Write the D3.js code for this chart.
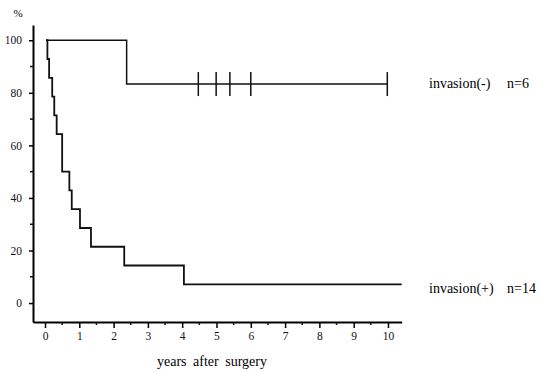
<!DOCTYPE html>
<html>
<head>
<meta charset="utf-8">
<script src="https://cdn.jsdelivr.net/npm/d3@7"></script>
<style>
  body { margin: 0; background: #fff; }
  svg, svg text { font-family: "Liberation Serif", "Times New Roman", "DejaVu Serif", serif !important; }
</style>
</head>
<body>
<svg id="chart" width="547" height="372"></svg>
<script>
const xTicks = [0, 1, 2, 3, 4, 5, 6, 7, 8, 9, 10]
const yTicks = [0, 20, 40, 60, 80, 100]

// invasion(-), n=6
const negTimes = [0.03, 2.38, 10.0]
const negSurv = [100, 83.33, 83.33]
const negCensor = [4.47, 4.99, 5.39, 6.0, 9.98]

// invasion(+), n=14
const posTimes = [0.03, 0.07, 0.12, 0.21, 0.27, 0.34, 0.5, 0.71, 0.78, 1.02, 1.34, 2.31, 4.05, 10.4]
const posSurv = [100, 92.86, 85.71, 78.57, 71.43, 64.29, 50, 42.86, 35.71, 28.57, 21.43, 14.29, 7.14, 7.14]

const svg = d3.select('#chart')

const x = d3.scaleLinear().domain([-0.35, 10.4]).range([33, 401.7])
const y = d3.scaleLinear().domain([-7.2, 105.8]).range([322, 25])

// minor ticks
const xMinor = d3.range(0.5, 10.4, 1)
const yMinor = d3.range(-10, 101, 10).filter(v => v % 20 !== 0 && v > -7)

const xAxis = svg.append('g')
  .attr('transform', 'translate(0,322)')
  .call(d3.axisBottom(x).tickValues(xTicks).tickSize(6).tickSizeOuter(0).tickPadding(4))
xAxis.attr('font-family', null)
xAxis.select('.domain').attr('stroke-width', 2)
xAxis.selectAll('.tick line').attr('stroke-width', 1.5)
xAxis.selectAll('.tick text')
  .attr('font-size', 11.5)
  .attr('fill', '#111')

svg.append('g').selectAll('line')
  .data(xMinor)
  .join('line')
  .attr('x1', d => x(d)).attr('x2', d => x(d))
  .attr('y1', 322).attr('y2', 325)
  .attr('stroke', '#111').attr('stroke-width', 1.5)

const yAxis = svg.append('g')
  .attr('transform', 'translate(33,0)')
  .call(d3.axisLeft(y).tickValues(yTicks).tickSize(4).tickSizeOuter(0).tickPadding(7))
yAxis.attr('font-family', null)
yAxis.select('.domain').attr('stroke-width', 2)
yAxis.selectAll('.tick line').attr('stroke-width', 1.5)
yAxis.selectAll('.tick text')
  .attr('font-size', 11.5)
  .attr('fill', '#111')

svg.append('g').selectAll('line')
  .data(yMinor)
  .join('line')
  .attr('x1', 30).attr('x2', 33)
  .attr('y1', d => y(d)).attr('y2', d => y(d))
  .attr('stroke', '#111').attr('stroke-width', 1.5)

svg.append('text')
  .attr('x', 18).attr('y', 17)
  .attr('text-anchor', 'middle')
  .attr('font-size', 11)
  .text('%')

svg.append('text')
  .attr('x', 212).attr('y', 366)
  .attr('text-anchor', 'middle')
  .attr('font-size', 14)
  .attr('word-spacing', 3)
  .text('years after surgery')

const line = d3.line()
  .x(d => x(d[0]))
  .y(d => y(d[1]))
  .curve(d3.curveStepAfter)

svg.append('path')
  .datum(d3.zip(negTimes, negSurv))
  .attr('d', line)
  .attr('fill', 'none')
  .attr('stroke', '#111')
  .attr('stroke-width', 1.5)

svg.append('path')
  .datum(d3.zip(posTimes, posSurv))
  .attr('d', line)
  .attr('fill', 'none')
  .attr('stroke', '#111')
  .attr('stroke-width', 1.8)

// censored marks
svg.append('g').selectAll('line')
  .data(negCensor)
  .join('line')
  .attr('x1', d => x(d)).attr('x2', d => x(d))
  .attr('y1', y(83.33) - 12).attr('y2', y(83.33) + 12)
  .attr('stroke', '#111')
  .attr('stroke-width', 1.5)

svg.append('text')
  .attr('x', 429).attr('y', 88)
  .attr('font-size', 14)
  .text('invasion(-)')
svg.append('text')
  .attr('x', 507).attr('y', 88)
  .attr('font-size', 14)
  .text('n=6')

svg.append('text')
  .attr('x', 429).attr('y', 293)
  .attr('font-size', 14)
  .text('invasion(+)')
svg.append('text')
  .attr('x', 507).attr('y', 293)
  .attr('font-size', 14)
  .text('n=14')
</script>
</body>
</html>
